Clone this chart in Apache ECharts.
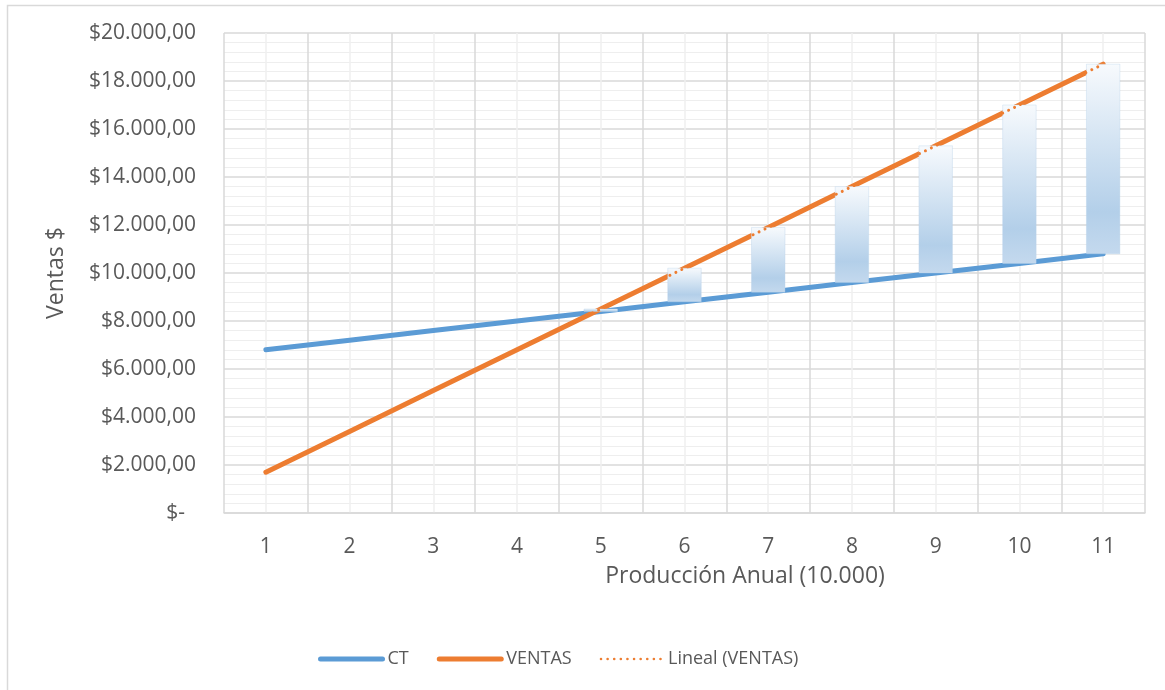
<!DOCTYPE html>
<html>
<head>
<meta charset="utf-8">
<title>Punto de equilibrio</title>
<script src="https://cdn.jsdelivr.net/npm/echarts@6/dist/echarts.min.js"></script>
<style>
  html, body { margin: 0; padding: 0; background: #ffffff; }
  #chart { width: 1165px; height: 690px; }
</style>
</head>
<body>
<div id="chart"></div>
<script>
// Producción anual (en unidades de 10.000)
const categories = ['1', '2', '3', '4', '5', '6', '7', '8', '9', '10', '11'];
// Costo total
const ct = [6800, 7200, 7600, 8000, 8400, 8800, 9200, 9600, 10000, 10400, 10800];
// Ventas
const ventas = [1700, 3400, 5100, 6800, 8500, 10200, 11900, 13600, 15300, 17000, 18700];
// Ticks of the value axis
const yTicks = { min: 0, max: 20000, step: 2000 };

const FONT = "'Open Sans', 'Noto Sans', sans-serif";
const TEXT = '#595959';
const GRID_MAJOR = '#d9d9d9';
const GRID_MINOR = '#eeeeee';
const BLUE = '#5b9bd5';
const ORANGE = '#ed7d31';

// Least-squares linear trend of the VENTAS series
function linearTrend(values) {
  const n = values.length;
  const xs = values.map((_, i) => i + 1);
  const mx = xs.reduce((a, b) => a + b, 0) / n;
  const my = values.reduce((a, b) => a + b, 0) / n;
  let sxy = 0, sxx = 0;
  for (let i = 0; i < n; i++) {
    sxy += (xs[i] - mx) * (values[i] - my);
    sxx += (xs[i] - mx) * (xs[i] - mx);
  }
  const slope = sxy / sxx;
  const icpt = my - slope * mx;
  return xs.map(x => +(icpt + slope * x).toFixed(2));
}
const tendencia = linearTrend(ventas);

function money(v) {
  if (v === 0) return '{z|$-}';
  const s = Math.round(v).toString().replace(/\B(?=(\d{3})+(?!\d))/g, '.');
  return '$' + s + ',00';
}

const barFill = new echarts.graphic.LinearGradient(0, 0, 0, 1, [
  { offset: 0, color: '#f7fafd' },
  { offset: 0.78, color: '#b3cfe9' },
  { offset: 1, color: '#c4d9ee' }
]);

const chart = echarts.init(document.getElementById('chart'), null, { renderer: 'canvas' });

chart.setOption({
  animation: false,
  backgroundColor: '#ffffff',
  textStyle: { fontFamily: FONT },
  graphic: [{
    type: 'rect',
    silent: true,
    z: -10,
    shape: { x: 7.5, y: 5.5, width: 1300, height: 800 },
    style: { fill: 'none', stroke: '#d9d9d9', lineWidth: 1.5 }
  }],
  grid: { left: 224, right: 20, top: 33, bottom: 177, containLabel: false },
  legend: {
    left: 313,
    top: 645,
    itemWidth: 62,
    itemHeight: 16,
    itemGap: 28,
    itemStyle: { opacity: 0 },
    textStyle: { fontFamily: FONT, fontSize: 18, color: TEXT },
    data: [
      { name: 'CT', lineStyle: { color: BLUE, width: 5, cap: 'round' } },
      { name: 'VENTAS', lineStyle: { color: ORANGE, width: 5, cap: 'round' } },
      { name: 'Lineal (VENTAS)', lineStyle: { color: ORANGE, width: 2.6, type: [0.01, 6.6], cap: 'round' } }
    ]
  },
  xAxis: [{
    type: 'category',
    data: categories,
    boundaryGap: true,
    axisLine: { show: true, lineStyle: { color: GRID_MAJOR, width: 1.5 } },
    axisTick: { show: false },
    splitLine: { show: false },
    axisLabel: { fontFamily: FONT, fontSize: 21, color: TEXT, margin: 24 },
    name: 'Producción Anual (10.000)',
    nameLocation: 'middle',
    nameGap: 52,
    nameTextStyle: { fontFamily: FONT, fontSize: 23, color: TEXT, padding: [0, 0, 0, 121] }
  }, {
    // half-category scale: even values fall on category borders, odd ones on category centres
    type: 'value',
    min: 0,
    max: 22,
    interval: 2,
    position: 'bottom',
    axisLine: { show: false },
    axisTick: { show: false },
    axisLabel: { show: false },
    splitLine: { show: true, lineStyle: { color: GRID_MAJOR, width: 1.5 } },
    minorTick: { show: false, splitNumber: 2 },
    minorSplitLine: { show: true, lineStyle: { color: '#f0f0f0', width: 1.5 } }
  }],
  yAxis: {
    type: 'value',
    min: yTicks.min,
    max: yTicks.max,
    interval: yTicks.step,
    axisLine: { show: false },
    axisTick: { show: false },
    splitLine: { show: true, lineStyle: { color: GRID_MAJOR, width: 1.5 } },
    minorTick: { show: false, splitNumber: 5 },
    minorSplitLine: { show: true, lineStyle: { color: GRID_MINOR, width: 1.2 } },
    axisLabel: {
      fontFamily: FONT, fontSize: 21, color: TEXT, margin: 28,
      formatter: money,
      rich: { z: { fontFamily: FONT, fontSize: 21, color: TEXT, padding: [0, 11, 0, 0] } }
    },
    name: 'Ventas $',
    nameLocation: 'middle',
    nameGap: 156,
    nameTextStyle: { fontFamily: FONT, fontSize: 23, color: TEXT }
  },
  series: [{
    name: 'CT',
    type: 'line',
    data: ct,
    symbol: 'none',
    z: 2,
    color: BLUE,
    lineStyle: { color: BLUE, width: 5, cap: 'round' }
  }, {
    name: 'VENTAS',
    type: 'line',
    data: ventas,
    symbol: 'none',
    z: 2,
    color: ORANGE,
    lineStyle: { color: ORANGE, width: 5, cap: 'round' }
  }, {
    // up bars between CT and VENTAS where sales exceed total cost
    name: 'Margen',
    type: 'custom',
    z: 3,
    data: categories.map((c, i) => [i, ct[i], ventas[i]]),
    encode: { x: 0, y: [1, 2] },
    renderItem: function (params, api) {
      const lo = api.value(1);
      const hi = api.value(2);
      if (!(hi > lo)) return null;
      const idx = api.value(0);
      const top = api.coord([idx, hi]);
      const bottom = api.coord([idx, lo]);
      const w = api.size([1, 0])[0] * 0.4;
      return {
        type: 'rect',
        shape: { x: top[0] - w / 2, y: top[1], width: w, height: bottom[1] - top[1] },
        style: { fill: barFill, stroke: 'rgba(180,207,233,0.6)', lineWidth: 0.6 }
      };
    }
  }, {
    name: 'Lineal (VENTAS)',
    type: 'line',
    data: tendencia,
    symbol: 'none',
    z: 4,
    color: ORANGE,
    lineStyle: { color: ORANGE, width: 3, type: [0.01, 6.6], cap: 'round' }
  }]
});
</script>
</body>
</html>
